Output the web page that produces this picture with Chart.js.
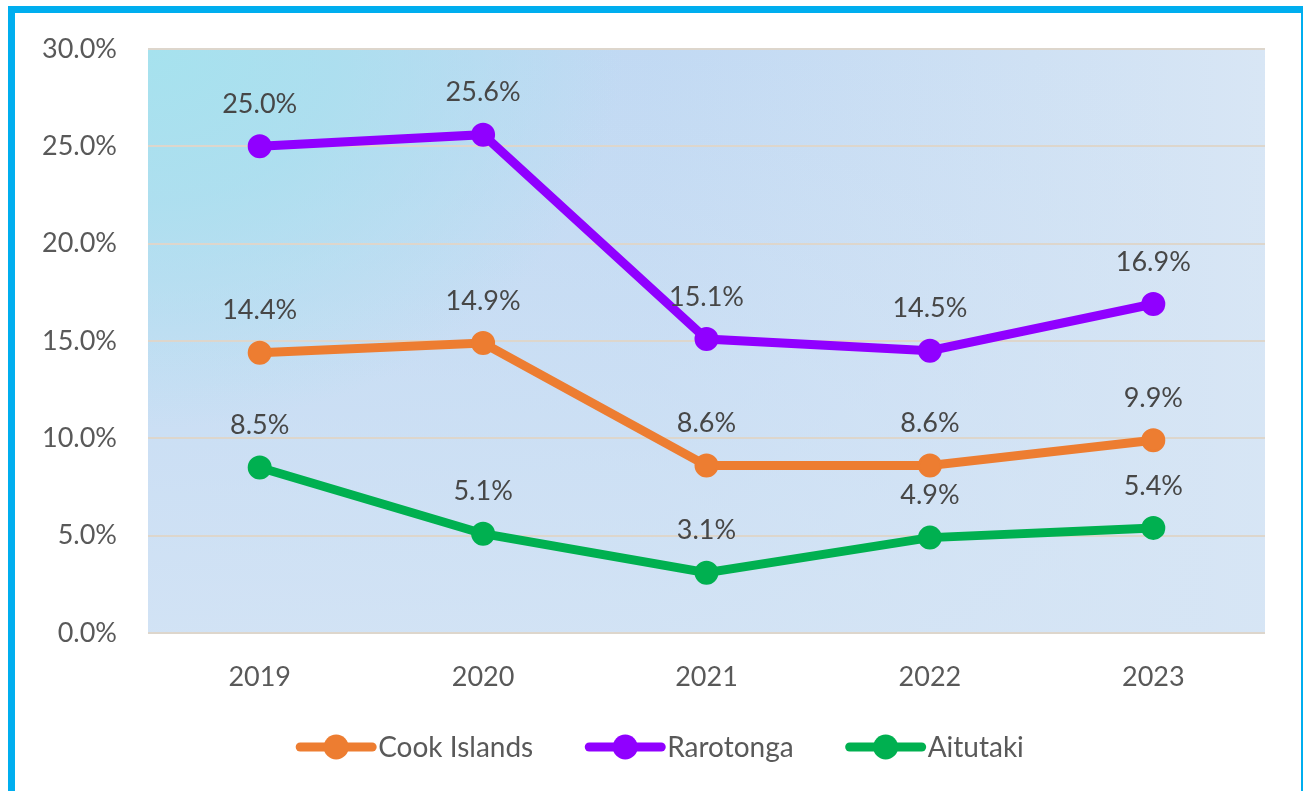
<!DOCTYPE html>
<html>
<head>
<meta charset="utf-8">
<script src="https://cdn.jsdelivr.net/npm/chart.js@4.4.1/dist/chart.umd.min.js"></script>
<style>
  html, body { margin:0; padding:0; background:#ffffff; width:1303px; height:791px; overflow:hidden; }
  #frame { position:absolute; left:8px; top:6px; width:1300px; height:800px; border:7px solid #00AEEF; box-sizing:border-box; background:#ffffff; }
  #c { position:absolute; left:0; top:0; }
</style>
</head>
<body>
<div id="frame"></div>
<canvas id="c" width="1303" height="791"></canvas>
<script>
const categories = ["2019", "2020", "2021", "2022", "2023"];
const cookIslands = [14.4, 14.9, 8.6, 8.6, 9.9];
const rarotonga = [25.0, 25.6, 15.1, 14.5, 16.9];
const aitutaki = [8.5, 5.1, 3.1, 4.9, 5.4];
const seriesNames = ["Cook Islands", "Rarotonga", "Aitutaki"];
const seriesColors = ["#ED7D31", "#9000FF", "#00B050"];
const yTicks = [0, 5, 10, 15, 20, 25, 30];

const FONT = "Lato, 'Open Sans', sans-serif";

const bgPlugin = {
  id: 'bg',
  beforeDraw(chart) {
    const { ctx, chartArea: a } = chart;
    ctx.save();
    ctx.fillStyle = '#bfd8f3';
    ctx.fillRect(a.left, a.top, a.width, a.height);
    let g = ctx.createLinearGradient(a.left, 0, a.right, 0);
    g.addColorStop(0, 'rgba(214,229,244,0)');
    g.addColorStop(0.45, 'rgba(214,229,244,0.1)');
    g.addColorStop(1, 'rgba(216,230,245,1)');
    ctx.fillStyle = g;
    ctx.fillRect(a.left, a.top, a.width, a.height);
    g = ctx.createLinearGradient(0, a.top, 0, a.bottom);
    g.addColorStop(0, 'rgba(214,229,245,0)');
    g.addColorStop(1, 'rgba(214,229,245,0.8)');
    ctx.fillStyle = g;
    ctx.fillRect(a.left, a.top, a.width, a.height);
    ctx.save();
    ctx.beginPath(); ctx.rect(a.left, a.top, a.width, a.height); ctx.clip();
    ctx.translate(a.left, a.top);
    ctx.scale(1.25, 1);
    g = ctx.createRadialGradient(0, 0, 0, 0, 0, 380);
    g.addColorStop(0, 'rgba(166,226,238,1)');
    g.addColorStop(0.4, 'rgba(168,224,238,0.8)');
    g.addColorStop(1, 'rgba(168,224,238,0)');
    ctx.fillStyle = g;
    ctx.fillRect(0, 0, 1000, 600);
    ctx.restore();
    ctx.restore();
  }
};

const labelPlugin = {
  id: 'labels',
  afterDatasetsDraw(chart) {
    const { ctx } = chart;
    ctx.save();
    ctx.font = '27px ' + FONT;
    ctx.fillStyle = '#474747';
    ctx.textAlign = 'center';
    ctx.textBaseline = 'middle';
    chart.data.datasets.forEach((ds, i) => {
      const meta = chart.getDatasetMeta(i);
      meta.data.forEach((pt, j) => {
        ctx.fillText(ds.data[j].toFixed(1) + '%', pt.x, pt.y - 42);
      });
    });
    ctx.restore();
  }
};

const legendPlugin = {
  id: 'customLegend',
  afterDraw(chart) {
    const { ctx } = chart;
    ctx.save();
    ctx.font = '28px ' + FONT;
    ctx.textBaseline = 'middle';
    ctx.textAlign = 'left';
    const order = [0, 1, 2];
    const lineW = 80, gapText = 2, gapItem = 52;
    let total = 0;
    const widths = order.map(i => ctx.measureText(seriesNames[i]).width);
    widths.forEach(w => total += lineW + gapText + w);
    total += gapItem * (order.length - 1);
    let x = 660 - total / 2;
    const y = 747;
    order.forEach((i, k) => {
      ctx.strokeStyle = seriesColors[i];
      ctx.fillStyle = seriesColors[i];
      ctx.lineWidth = 9;
      ctx.lineCap = 'round';
      ctx.beginPath(); ctx.moveTo(x + 4, y); ctx.lineTo(x + lineW - 4, y); ctx.stroke();
      ctx.beginPath(); ctx.arc(x + lineW / 2, y, 12.5, 0, Math.PI * 2); ctx.fill();
      ctx.fillStyle = '#595959';
      ctx.fillText(seriesNames[i], x + lineW + gapText, y + 1);
      x += lineW + gapText + widths[k] + gapItem;
    });
    ctx.restore();
  }
};

function ds(label, data, color) {
  return {
    label, data,
    borderColor: color, backgroundColor: color,
    borderWidth: 9,
    pointRadius: 11, pointBorderWidth: 2,
    pointBackgroundColor: color, pointBorderColor: color,
    pointHoverRadius: 11,
    tension: 0
  };
}

new Chart(document.getElementById('c'), {
  type: 'line',
  data: {
    labels: categories,
    datasets: [
      ds(seriesNames[1], rarotonga, seriesColors[1]),
      ds(seriesNames[0], cookIslands, seriesColors[0]),
      ds(seriesNames[2], aitutaki, seriesColors[2])
    ]
  },
  options: {
    responsive: false,
    animation: false,
    events: [],
    layout: { padding: { left: 0, right: 38, top: 49, bottom: 0 } },
    plugins: { legend: { display: false }, tooltip: { enabled: false } },
    scales: {
      x: {
        offset: true,
        grid: { display: false, drawTicks: false },
        border: { display: false },
        ticks: { color: '#595959', font: { family: FONT, size: 27 }, padding: 28 },
        afterFit(s) { s.height = 158; }
      },
      y: {
        min: yTicks[0], max: yTicks[yTicks.length - 1],
        afterBuildTicks(s) { s.ticks = yTicks.map(v => ({ value: v })); },
        grid: { color: '#ddd6cc', lineWidth: 2, drawTicks: false },
        border: { display: false },
        ticks: {
          color: '#595959', font: { family: FONT, size: 27 }, padding: 31,
          callback: v => v.toFixed(1) + '%'
        },
        afterFit(s) { s.width = 148; }
      }
    }
  },
  plugins: [bgPlugin, labelPlugin, legendPlugin]
});
</script>
</body>
</html>
